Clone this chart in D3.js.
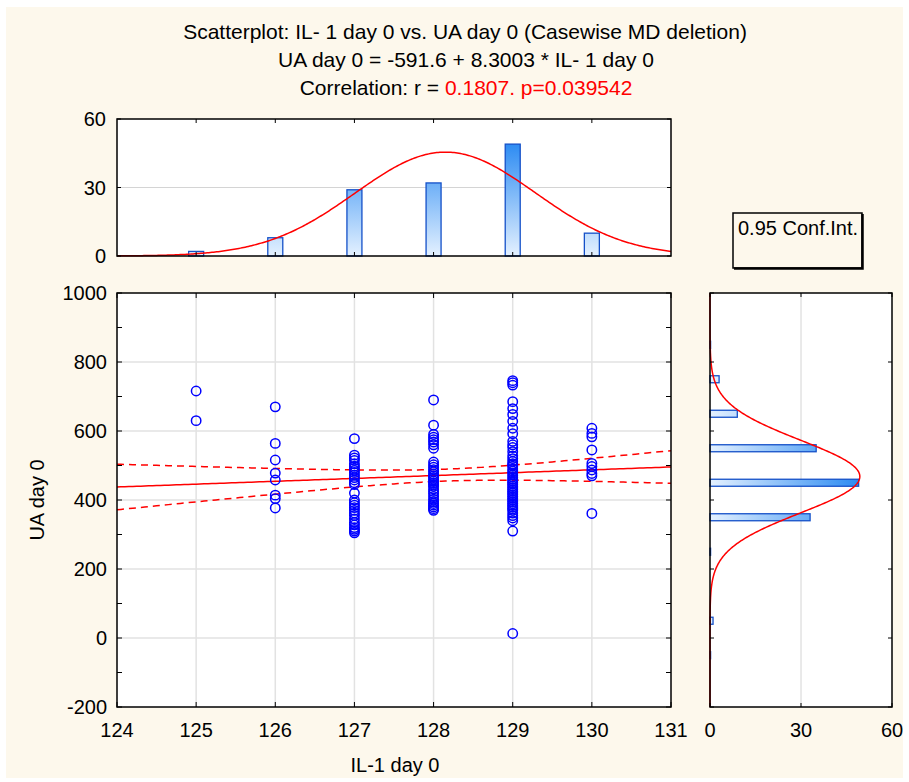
<!DOCTYPE html>
<html>
<head>
<meta charset="utf-8">
<script src="https://cdn.jsdelivr.net/npm/d3@7"></script>
<style>
  body { margin: 0; background: #ffffff; }
  text { font-family: "Liberation Sans", Arial, sans-serif; }
</style>
</head>
<body>
<div id="chart"></div>
<script>
// IL-1 day 0 categories and the UA day 0 values read for each of them
const ilValues = [125, 126, 127, 128, 129, 130];
const uaByIl = {
    125: [716, 630],
    126: [670, 564, 516, 478, 458, 414, 404, 377],
    127: [578, 530, 522, 515, 505, 498, 492, 486, 480, 472, 465, 458, 450, 445, 420,
          400, 392, 385, 378, 370, 362, 355, 345, 335, 328, 320, 315, 310, 305],
    128: [690, 617, 590, 582, 575, 568, 560, 550, 510, 502, 495, 488, 482, 475, 470, 465,
          460, 455, 450, 445, 440, 432, 425, 418, 410, 402, 395, 390, 385, 380, 375, 370],
    129: [746, 740, 733, 685, 665, 648, 628, 608, 592, 570, 560, 552, 540, 528, 520, 512,
          505, 502, 498, 490, 484, 478, 472, 466, 460, 455, 450, 446, 440, 435, 430, 425,
          420, 415, 410, 405, 400, 395, 390, 385, 380, 375, 370, 362, 355, 348, 340, 310, 13],
    130: [608, 593, 583, 545, 506, 497, 487, 477, 470, 361]
};

// histogram of IL-1 (top) and of UA (right)
const ilCounts = [2, 8, 29, 32, 49, 10];
const uaBinCenters = [850, 750, 650, 550, 450, 350, 250, 50, -50];
const uaCounts = [0, 3, 9, 35, 49, 33, 0, 1, 0];

// tick labels
const xTicks = [124, 125, 126, 127, 128, 129, 130, 131];
const yTicks = [-200, 0, 200, 400, 600, 800, 1000];
const yMinorTicks = [-100, 100, 300, 500, 700, 900];
const histTicks = [0, 30, 60];

// fit parameters
const intercept = -591.6;
const slope = 8.3003;
const nCases = 130;
const ilMean = 128.15, ilSd = 1.14;
const uaMean = 468, uaSd = 105, uaBinWidth = 100;
const ciMeanX = 128.14, ciSxx = 165.4, ciResid = 100, ciT = 1.979;

const width = 909;
const height = 782;

const svg = d3.select("#chart")
    .append("svg")
    .attr("width", width)
    .attr("height", height);

// cream background panel
svg.append("rect")
    .attr("x", 6).attr("y", 7)
    .attr("width", 897).attr("height", 771)
    .attr("fill", "#fdf8ec");

// gradients for the histogram bars
const defs = svg.append("defs");
const gradV = defs.append("linearGradient")
    .attr("id", "gradV")
    .attr("gradientUnits", "userSpaceOnUse")
    .attr("x1", 0).attr("y1", 256).attr("x2", 0).attr("y2", 142);
gradV.append("stop").attr("offset", "0%").attr("stop-color", "#e4f1ff");
gradV.append("stop").attr("offset", "100%").attr("stop-color", "#2a8af2");
const gradH = defs.append("linearGradient")
    .attr("id", "gradH")
    .attr("gradientUnits", "userSpaceOnUse")
    .attr("x1", 710).attr("y1", 0).attr("x2", 860).attr("y2", 0);
gradH.append("stop").attr("offset", "0%").attr("stop-color", "#e4f1ff");
gradH.append("stop").attr("offset", "100%").attr("stop-color", "#2a8af2");

// scales
const xScale = d3.scaleLinear().domain([124, 131]).range([117, 671]);
const yScale = d3.scaleLinear().domain([-200, 1000]).range([707, 293]);
const topY = d3.scaleLinear().domain([0, 60]).range([256, 119]);
const rightX = d3.scaleLinear().domain([0, 60]).range([710, 892]);

const fontSize = 20;

// titles
const titles = svg.append("g").attr("font-size", 21).attr("text-anchor", "middle");
titles.append("text").attr("x", 465).attr("y", 39)
    .text("Scatterplot: IL- 1 day 0 vs. UA day 0 (Casewise MD deletion)");
titles.append("text").attr("x", 466).attr("y", 67)
    .text("UA day 0 = -591.6 + 8.3003 * IL- 1 day 0");
const t3 = titles.append("text").attr("x", 466).attr("y", 95);
t3.append("tspan").text("Correlation: r = ");
t3.append("tspan").attr("fill", "#ff0000").text("0.1807. p=0.039542");

// ---------- top histogram ----------
const topHist = svg.append("g");
topHist.append("rect")
    .attr("x", 117).attr("y", 119).attr("width", 554).attr("height", 137)
    .attr("fill", "#ffffff");
topHist.append("line")
    .attr("x1", 117).attr("x2", 671)
    .attr("y1", topY(30)).attr("y2", topY(30))
    .attr("stroke", "#d4d4d4").attr("stroke-width", 1);

topHist.selectAll(".bar")
    .data(ilValues)
    .enter()
    .append("rect")
    .attr("class", "bar")
    .attr("x", d => xScale(d) - 7.5)
    .attr("width", 15)
    .attr("y", (d, i) => topY(ilCounts[i]))
    .attr("height", (d, i) => topY(0) - topY(ilCounts[i]))
    .attr("fill", "url(#gradV)")
    .attr("stroke", "#1450c8")
    .attr("stroke-width", 1.3);

const topCurve = d3.range(124, 131.001, 0.02).map(v => ({
    x: v,
    y: nCases / (ilSd * Math.sqrt(2 * Math.PI)) * Math.exp(-0.5 * Math.pow((v - ilMean) / ilSd, 2))
}));
topHist.append("path")
    .datum(topCurve)
    .attr("d", d3.line().x(d => xScale(d.x)).y(d => topY(d.y)))
    .attr("fill", "none")
    .attr("stroke", "#ff0000")
    .attr("stroke-width", 1.5);

// inner ticks
topHist.selectAll(".tt")
    .data(ilValues)
    .enter()
    .append("path")
    .attr("d", d => `M${xScale(d)},119v4M${xScale(d)},256v-4`)
    .attr("stroke", "#000");
topHist.selectAll(".ty")
    .data(histTicks)
    .enter()
    .append("path")
    .attr("d", d => `M117,${topY(d)}h4M671,${topY(d)}h-4`)
    .attr("stroke", "#000");
topHist.append("rect")
    .attr("x", 117).attr("y", 119).attr("width", 554).attr("height", 137)
    .attr("fill", "none").attr("stroke", "#000").attr("stroke-width", 1.5);
topHist.selectAll(".tl")
    .data(histTicks)
    .enter()
    .append("text")
    .attr("x", 106)
    .attr("y", d => topY(d) + 7)
    .attr("text-anchor", "end")
    .attr("font-size", fontSize)
    .text(d => d);

// ---------- scatter ----------
const main = svg.append("g");
main.append("rect")
    .attr("x", 117).attr("y", 293).attr("width", 554).attr("height", 414)
    .attr("fill", "#ffffff");
main.selectAll(".gx")
    .data(xTicks.slice(1, -1))
    .enter()
    .append("line")
    .attr("x1", d => xScale(d)).attr("x2", d => xScale(d))
    .attr("y1", 293).attr("y2", 707)
    .attr("stroke", "#e2e2e2").attr("stroke-width", 1.5);
main.selectAll(".gy")
    .data(yTicks.slice(1, -1))
    .enter()
    .append("line")
    .attr("x1", 117).attr("x2", 671)
    .attr("y1", d => yScale(d)).attr("y2", d => yScale(d))
    .attr("stroke", "#e2e2e2").attr("stroke-width", 1.5);

// regression line and 0.95 confidence band
const ciHalf = x => ciT * ciResid * Math.sqrt(1 / nCases + Math.pow(x - ciMeanX, 2) / ciSxx);
const fitX = d3.range(124, 131.001, 0.05);
const fitLine = d3.line().x(d => xScale(d[0])).y(d => yScale(d[1]));
main.append("path")
    .datum(fitX.map(x => [x, intercept + slope * x]))
    .attr("d", fitLine)
    .attr("fill", "none").attr("stroke", "#ff0000").attr("stroke-width", 1.5);
[1, -1].forEach(s => {
    main.append("path")
        .datum(fitX.map(x => [x, intercept + slope * x + s * ciHalf(x)]))
        .attr("d", fitLine)
        .attr("fill", "none").attr("stroke", "#ff0000").attr("stroke-width", 1.5)
        .attr("stroke-dasharray", "7,5");
});

// points
const points = [];
ilValues.forEach(il => uaByIl[il].forEach(ua => points.push({ x: il, y: ua })));
main.selectAll(".point")
    .data(points)
    .enter()
    .append("circle")
    .attr("class", "point")
    .attr("cx", d => xScale(d.x))
    .attr("cy", d => yScale(d.y))
    .attr("r", 4.7)
    .attr("fill", "none")
    .attr("stroke", "#0000ff")
    .attr("stroke-width", 1.5);

// ticks
main.selectAll(".mx")
    .data(xTicks)
    .enter()
    .append("path")
    .attr("d", d => `M${xScale(d)},707v-5M${xScale(d)},293v5`)
    .attr("stroke", "#000");
main.selectAll(".my")
    .data(yTicks.concat(yMinorTicks))
    .enter()
    .append("path")
    .attr("d", d => `M117,${yScale(d)}h5M671,${yScale(d)}h-5`)
    .attr("stroke", "#000");
main.append("rect")
    .attr("x", 117).attr("y", 293).attr("width", 554).attr("height", 414)
    .attr("fill", "none").attr("stroke", "#000").attr("stroke-width", 1.5);

main.selectAll(".xl")
    .data(xTicks)
    .enter()
    .append("text")
    .attr("x", d => xScale(d))
    .attr("y", 737)
    .attr("text-anchor", "middle")
    .attr("font-size", fontSize)
    .text(d => d);
main.selectAll(".yl")
    .data(yTicks)
    .enter()
    .append("text")
    .attr("x", 107)
    .attr("y", d => yScale(d) + 7)
    .attr("text-anchor", "end")
    .attr("font-size", fontSize)
    .text(d => d);

svg.append("text")
    .attr("x", 395).attr("y", 772)
    .attr("text-anchor", "middle")
    .attr("font-size", fontSize)
    .text("IL-1 day 0");
svg.append("text")
    .attr("transform", "translate(44,500) rotate(-90)")
    .attr("text-anchor", "middle")
    .attr("font-size", fontSize)
    .text("UA day 0");

// ---------- right histogram ----------
const right = svg.append("g");
right.append("rect")
    .attr("x", 710).attr("y", 293).attr("width", 182).attr("height", 414)
    .attr("fill", "#ffffff");
right.append("line")
    .attr("x1", rightX(30)).attr("x2", rightX(30))
    .attr("y1", 293).attr("y2", 707)
    .attr("stroke", "#d4d4d4").attr("stroke-width", 1);
// empty bins still leave a thin mark on the axis
right.selectAll(".hbar")
    .data(uaBinCenters)
    .enter()
    .append("rect")
    .attr("class", "hbar")
    .attr("x", rightX(0))
    .attr("y", d => yScale(d) - 3.5)
    .attr("height", 7)
    .attr("width", (d, i) => Math.max(rightX(uaCounts[i]) - rightX(0), 0.6))
    .attr("fill", "url(#gradH)")
    .attr("stroke", "#1450c8")
    .attr("stroke-width", 1.3);

const rightCurve = d3.range(-200, 1000.001, 2).map(v => ({
    y: v,
    c: nCases * uaBinWidth / (uaSd * Math.sqrt(2 * Math.PI)) * Math.exp(-0.5 * Math.pow((v - uaMean) / uaSd, 2))
}));
right.append("path")
    .datum(rightCurve)
    .attr("d", d3.line().x(d => rightX(d.c)).y(d => yScale(d.y)))
    .attr("fill", "none")
    .attr("stroke", "#ff0000")
    .attr("stroke-width", 1.5);

right.selectAll(".rt")
    .data(yTicks)
    .enter()
    .append("path")
    .attr("d", d => `M710,${yScale(d)}h4M892,${yScale(d)}h-4`)
    .attr("stroke", "#000");
right.selectAll(".rx")
    .data(histTicks)
    .enter()
    .append("path")
    .attr("d", d => `M${rightX(d)},293v4M${rightX(d)},707v-4`)
    .attr("stroke", "#000");
right.append("rect")
    .attr("x", 710).attr("y", 293).attr("width", 182).attr("height", 414)
    .attr("fill", "none").attr("stroke", "#000").attr("stroke-width", 1.5);
right.selectAll(".rl")
    .data(histTicks)
    .enter()
    .append("text")
    .attr("x", d => rightX(d))
    .attr("y", 737)
    .attr("text-anchor", "middle")
    .attr("font-size", fontSize)
    .text(d => d);

// legend box
const legend = svg.append("g");
legend.append("rect")
    .attr("x", 733).attr("y", 213).attr("width", 129).attr("height", 55)
    .attr("fill", "none").attr("stroke", "#000").attr("stroke-width", 1.5);
legend.append("path")
    .attr("d", "M734,268.5H862.5V214")
    .attr("fill", "none").attr("stroke", "#000").attr("stroke-width", 2.5);
legend.append("text")
    .attr("x", 738).attr("y", 235)
    .attr("font-size", fontSize)
    .text("0.95 Conf.Int.");
</script>
</body>
</html>
